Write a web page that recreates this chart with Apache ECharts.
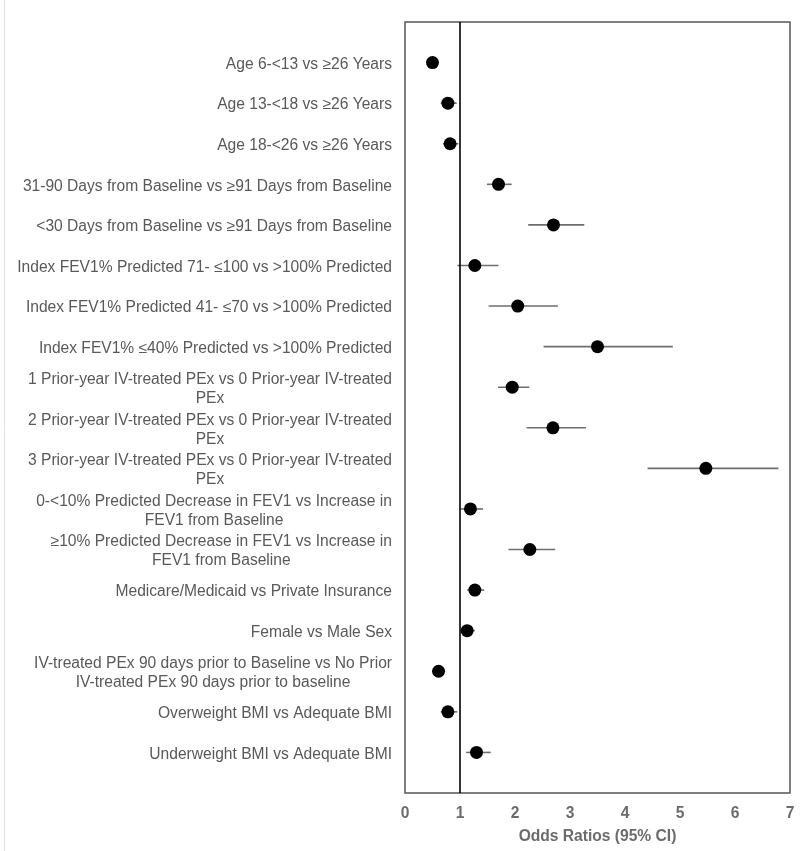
<!DOCTYPE html>
<html>
<head>
<meta charset="utf-8">
<script src="https://cdn.jsdelivr.net/npm/echarts@6/dist/echarts.min.js"></script>
<style>html,body{margin:0;padding:0;background:#fff;}#c{width:800px;height:851px;}</style>
</head>
<body>
<div id="c"></div>
<script>
var categories = [
  "Age 6-<13 vs \u226526 Years",
  "Age 13-<18 vs \u226526 Years",
  "Age 18-<26 vs \u226526 Years",
  "31-90 Days from Baseline vs \u226591 Days from Baseline",
  "<30 Days from Baseline vs \u226591 Days from Baseline",
  "Index FEV1% Predicted 71- \u2264100 vs >100% Predicted",
  "Index FEV1% Predicted 41- \u226470 vs >100% Predicted",
  "Index FEV1% \u226440% Predicted vs >100% Predicted",
  "1 Prior-year IV-treated PEx vs 0 Prior-year IV-treated\nPEx",
  "2 Prior-year IV-treated PEx vs 0 Prior-year IV-treated\nPEx",
  "3 Prior-year IV-treated PEx vs 0 Prior-year IV-treated\nPEx",
  "0-<10% Predicted Decrease in FEV1 vs Increase in\nFEV1 from Baseline",
  "\u226510% Predicted Decrease in FEV1 vs Increase in\nFEV1 from Baseline",
  "Medicare/Medicaid vs Private Insurance",
  "Female vs Male Sex",
  "IV-treated PEx 90 days prior to Baseline vs No Prior\nIV-treated PEx 90 days prior to baseline",
  "Overweight BMI vs Adequate BMI",
  "Underweight BMI vs Adequate BMI"
];
var oddsRatio = [0.50, 0.78, 0.82, 1.70, 2.70, 1.27, 2.05, 3.50, 1.95, 2.69, 5.47, 1.19, 2.27, 1.27, 1.13, 0.61, 0.78, 1.30];
var ciLower   = [0.45, 0.65, 0.69, 1.49, 2.24, 0.95, 1.52, 2.52, 1.69, 2.21, 4.41, 1.01, 1.88, 1.13, 1.00, 0.55, 0.65, 1.11];
var ciUpper   = [0.56, 0.94, 0.97, 1.94, 3.26, 1.70, 2.78, 4.87, 2.26, 3.29, 6.79, 1.42, 2.73, 1.44, 1.27, 0.68, 0.95, 1.56];
var xTicks = [0, 1, 2, 3, 4, 5, 6, 7];

var pointData = oddsRatio.map(function (v, i) { return [v, i + 1]; });
var ciData = ciLower.map(function (lo, i) { return [lo, ciUpper[i], i + 1]; });

var FONT = 'Liberation Sans, Arial, sans-serif';
var chart = echarts.init(document.getElementById('c'));
chart.setOption({
  animation: false,
  backgroundColor: '#fff',
  grid: { left: 405, right: 10, top: 22, bottom: 58, show: true, borderColor: '#555', borderWidth: 1.5, backgroundColor: 'transparent' },
  xAxis: {
    type: 'value', min: xTicks[0], max: xTicks[xTicks.length - 1], interval: 1,
    axisLine: { show: false }, axisTick: { show: false }, splitLine: { show: false },
    axisLabel: { margin: 13, color: '#6b6b6b', fontWeight: 'bold', fontSize: 15.6, fontFamily: FONT },
    name: 'Odds Ratios (95% CI)', nameLocation: 'middle', nameGap: 36,
    nameTextStyle: { color: '#6b6b6b', fontWeight: 'bold', fontSize: 15.6, fontFamily: FONT }
  },
  yAxis: {
    type: 'value', min: 0, max: categories.length + 1, interval: 1, inverse: true,
    axisLine: { show: false }, axisTick: { show: false }, splitLine: { show: false },
    axisLabel: {
      margin: 13,
      padding: [4, 0, 0, 0],
      formatter: function (v) {
        var s = categories[v - 1];
        if (!s) return '';
        return s.split('\n').map(function (l) { return '{c|' + l + '}'; }).join('\n');
      },
      rich: { c: { align: 'center', color: '#595959', fontSize: 15.6, lineHeight: 19, fontFamily: FONT } }
    }
  },
  series: [
    {
      type: 'custom',
      data: ciData,
      z: 2,
      renderItem: function (params, api) {
        var p1 = api.coord([api.value(0), api.value(2)]);
        var p2 = api.coord([api.value(1), api.value(2)]);
        return { type: 'line', shape: { x1: p1[0], y1: p1[1], x2: p2[0], y2: p2[1] }, style: { stroke: '#6e6e6e', lineWidth: 1.6 } };
      }
    },
    {
      type: 'scatter',
      data: pointData,
      symbol: 'circle',
      symbolSize: 13,
      itemStyle: { color: '#000', opacity: 1 },
      z: 3,
      markLine: {
        silent: true, symbol: 'none', label: { show: false },
        lineStyle: { color: '#000', type: 'solid', width: 1.6 },
        data: [{ xAxis: 1 }]
      }
    }
  ],
  graphic: [
    { type: 'line', shape: { x1: 4.5, y1: 0, x2: 4.5, y2: 851 }, style: { stroke: '#e2e2e2', lineWidth: 1 } }
  ]
});
</script>
</body>
</html>
